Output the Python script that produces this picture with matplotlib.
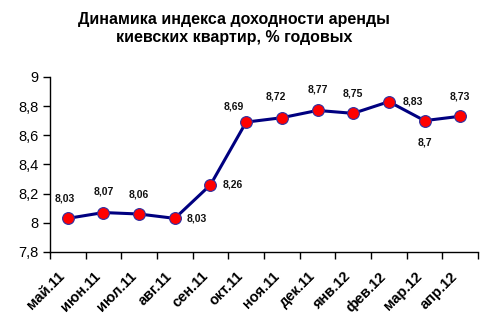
import matplotlib
matplotlib.use("Agg")
import matplotlib.pyplot as plt
from matplotlib.ticker import FixedLocator, FuncFormatter, NullFormatter
from matplotlib.transforms import ScaledTranslation

plt.rcParams['font.family'] = ['Liberation Sans', 'DejaVu Sans']

months = ["май.11", "июн.11", "июл.11", "авг.11", "сен.11", "окт.11",
          "ноя.11", "дек.11", "янв.12", "фев.12", "мар.12", "апр.12"]
values = [8.03, 8.07, 8.06, 8.03, 8.26, 8.69, 8.72, 8.77, 8.75, 8.83, 8.70, 8.73]
value_text = ["8,03", "8,07", "8,06", "8,03", "8,26", "8,69",
              "8,72", "8,77", "8,75", "8,83", "8,7", "8,73"]
# label placement per point: (dx, dy) in points
label_offsets = [(-2, 14), (0, 15), (0, 14), (16, 0), (16, 0), (-9, 11),
                 (-4, 15), (0, 15), (0, 14), (17, 0), (0, -16), (0, 14)]

fig = plt.figure(figsize=(4.8, 3.23), dpi=100)
ax = fig.add_axes([0.104, 0.22, 0.892, 0.542])

x = list(range(len(values)))
ax.plot(x, values, color="#000080", lw=2.2, marker="o", ms=8.5,
        markerfacecolor="#FF0000", markeredgecolor="#3030A0", mew=0.8, zorder=3)

for xi, v, t, (dx, dy) in zip(x, values, value_text, label_offsets):
    ax.annotate(t, (xi, v), xytext=(dx, dy), textcoords="offset points",
                ha="center", va="center", fontsize=7.5, fontweight="bold",
                color="#111111")

ax.set_xlim(-0.5, len(values) - 0.5)
ax.set_ylim(7.8, 9.0)
ax.yaxis.set_major_locator(FixedLocator([7.8, 8.0, 8.2, 8.4, 8.6, 8.8, 9.0]))
ax.yaxis.set_major_formatter(FuncFormatter(
    lambda v, p: f"{v:.1f}".rstrip("0").rstrip(".").replace(".", ",")))

# category boundaries carry the tick marks; month names sit at the centres
ax.set_xticks([i - 0.5 for i in range(len(values) + 1)])
ax.xaxis.set_major_formatter(NullFormatter())
ax.tick_params(axis="x", which="major", length=5, width=1, direction="out")
ax.tick_params(axis="y", length=5, width=1, direction="out", labelsize=10.5, pad=3)

label_trans = ax.get_xaxis_transform() + ScaledTranslation(-3.5 / 72, -16 / 72,
                                                          fig.dpi_scale_trans)
for xi, m in zip(x, months):
    ax.text(xi, 0, m, transform=label_trans, rotation=45, ha="right",
            va="center", rotation_mode="anchor", fontsize=10.5,
            fontweight="bold", clip_on=False)

for s in ("top", "right"):
    ax.spines[s].set_visible(False)
for s in ("left", "bottom"):
    ax.spines[s].set_linewidth(1)

fig.text(0.488, 0.912, "Динамика индекса доходности аренды\nкиевских квартир, % годовых",
         ha="center", va="center", fontsize=11.5, fontweight="bold",
         linespacing=1.3)

fig.savefig("out.png", dpi=100)
